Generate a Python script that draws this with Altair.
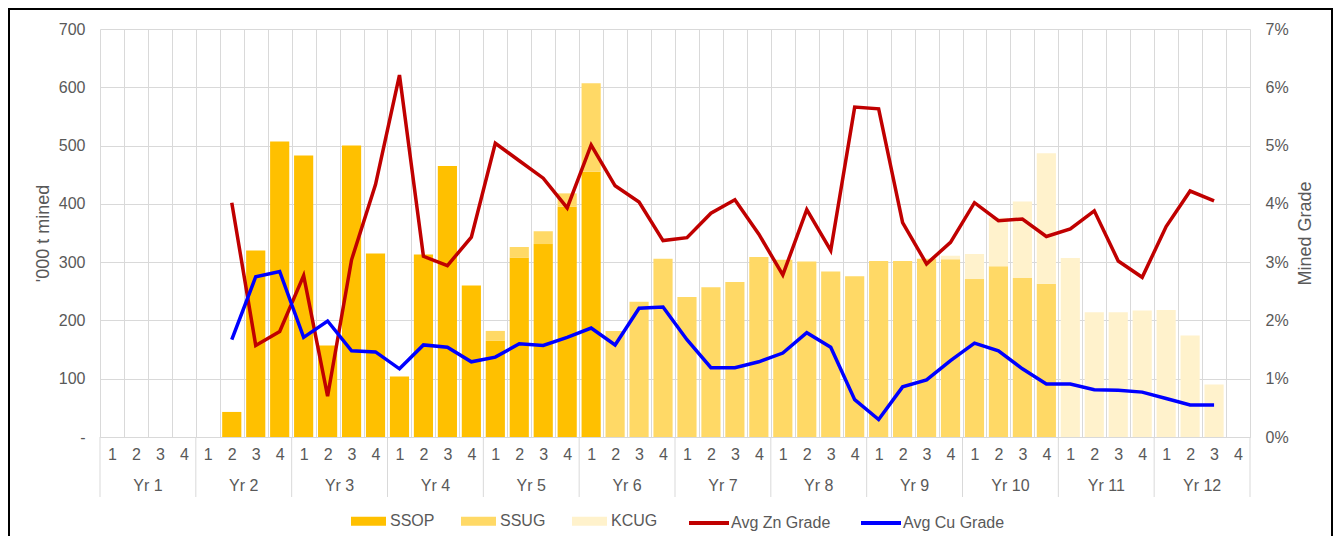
import altair as alt
import pandas as pd

# ---------------- data ----------------
YEARS = ["Yr 1", "Yr 2", "Yr 3", "Yr 4", "Yr 5", "Yr 6",
         "Yr 7", "Yr 8", "Yr 9", "Yr 10", "Yr 11", "Yr 12"]
QUARTERS = ["1", "2", "3", "4"]

SSOP = [0, 0, 0, 0,  0, 43, 320, 507,  483, 157, 500, 315,  104, 313, 465, 260,
        165, 308, 331, 395,  455, 0, 0, 0,  0, 0, 0, 0,  0, 0, 0, 0,
        0, 0, 0, 0,  0, 0, 0, 0,  0, 0, 0, 0,  0, 0, 0, 0]
SSUG = [0, 0, 0, 0,  0, 0, 0, 0,  0, 0, 0, 0,  0, 0, 0, 0,
        17, 18, 22, 23,  152, 182, 232, 306,  240, 257, 266, 309,  304, 301, 284, 276,
        302, 302, 306, 305,  271, 293, 273, 263,  0, 0, 0, 0,  0, 0, 0, 0]
KCUG = [0, 0, 0, 0,  0, 0, 0, 0,  0, 0, 0, 0,  0, 0, 0, 0,
        0, 0, 0, 0,  0, 0, 0, 0,  0, 0, 0, 0,  0, 0, 0, 0,
        0, 0, 0, 6,  43, 83, 131, 224,  307, 214, 214, 217,  218, 174, 90, 0]

ZN = [None, None, None, None,  None, 4.02, 1.57, 1.81,  2.77, 0.70, 3.04, 4.33,
      6.21, 3.10, 2.94, 3.43,  5.04, 4.74, 4.44, 3.93,  5.01, 4.31, 4.03, 3.37,
      3.42, 3.84, 4.07, 3.48,  2.78, 3.90, 3.20, 5.66,  5.63, 3.68, 2.97, 3.34,
      4.02, 3.71, 3.74, 3.44,  3.57, 3.88, 3.02, 2.74,  3.61, 4.22, 4.05, None]
CU = [None, None, None, None,  None, 1.67, 2.75, 2.84,  1.71, 1.99, 1.48, 1.46,
      1.17, 1.58, 1.54, 1.29,  1.37, 1.60, 1.57, 1.71,  1.87, 1.58, 2.21, 2.23,
      1.67, 1.19, 1.19, 1.29,  1.44, 1.79, 1.54, 0.64,  0.30, 0.86, 0.98, 1.31,
      1.61, 1.48, 1.17, 0.91,  0.91, 0.81, 0.80, 0.77,  0.66, 0.55, 0.55, None]

BAR_SERIES = ["SSOP", "SSUG", "KCUG"]
BAR_COLORS = ["#FFC000", "#FFD966", "#FFF2CC"]
LINE_SERIES = ["Avg Zn Grade", "Avg Cu Grade"]
LINE_COLORS = ["#C00000", "#0000FF"]

KEYS = [f"{y}|{q}" for y in YEARS for q in QUARTERS]

bar_rows = []
for s_i, (name, vals) in enumerate(zip(BAR_SERIES, [SSOP, SSUG, KCUG])):
    for i, v in enumerate(vals):
        if v:
            bar_rows.append({"key": KEYS[i], "series": name, "value": v, "ord": s_i})
bars_df = pd.DataFrame(bar_rows)

line_rows = []
for name, vals in zip(LINE_SERIES, [ZN, CU]):
    for i, v in enumerate(vals):
        if v is not None:
            line_rows.append({"key": KEYS[i], "series": name, "grade": v, "idx": i})
lines_df = pd.DataFrame(line_rows)

year_df = pd.DataFrame({"key": [f"{y}|2" for y in YEARS], "label": YEARS})
sep_df = pd.DataFrame({"key": [f"{y}|1" for y in YEARS]})
end_df = pd.DataFrame({"key": [KEYS[-1]]})
frame_df = pd.DataFrame({"a": [0]})

# ---------------- layout constants ----------------
W, H = 1150, 408
GRID = "#D9D9D9"
TXT = "#595959"

xscale = alt.Scale(domain=KEYS, paddingInner=0, paddingOuter=0)
xaxis = alt.Axis(title=None, labelExpr="split(datum.value, '|')[1]", labelAngle=0,
                 ticks=False, tickBand="extent", grid=True, gridColor=GRID, gridWidth=1,
                 domainColor=GRID, domainWidth=1, labelPadding=9, labelFontSize=16,
                 labelColor=TXT)


def X(**kw):
    return alt.X("key:N", scale=xscale, axis=xaxis, **kw)


bars = alt.Chart(bars_df).mark_bar(width=alt.RelativeBandSize(0.8)).encode(
    x=X(),
    y=alt.Y("value:Q", stack="zero",
            scale=alt.Scale(domain=[0, 700], nice=False),
            axis=alt.Axis(values=list(range(0, 701, 100)),
                          labelExpr="datum.value == 0 ? '-' : datum.label",
                          ticks=False, domain=False, grid=True, gridColor=GRID,
                          labelPadding=15, labelFontSize=16, labelColor=TXT,
                          title="'000 t mined", titleFontSize=18, titleFontWeight="normal",
                          titleColor=TXT, titleAngle=270, titleX=-57, titleY=H / 2,
                          titleBaseline="middle", titleAlign="center")),
    color=alt.Color("series:N", scale=alt.Scale(domain=BAR_SERIES, range=BAR_COLORS),
                    legend=alt.Legend(orient="none", legendX=251, legendY=474.5,
                                      direction="horizontal", title=None,
                                      symbolType="M-1,-0.26H1V0.26H-1Z", symbolSize=1225,
                                      symbolStrokeWidth=0, labelFontSize=16,
                                      labelColor=TXT, labelOffset=4, columnPadding=26)),
    order=alt.Order("ord:Q"),
)

lines = alt.Chart(lines_df).mark_line(strokeWidth=3.5).encode(
    x=X(),
    y=alt.Y("grade:Q", scale=alt.Scale(domain=[0, 7], nice=False),
            axis=alt.Axis(orient="right", values=list(range(0, 8)),
                          labelExpr="datum.value + '%'", ticks=False, domain=False,
                          grid=False, labelPadding=15, labelFontSize=16, labelColor=TXT,
                          title="Mined Grade", titleFontSize=18, titleFontWeight="normal",
                          titleColor=TXT, titleAngle=270, titleX=55, titleY=H / 2,
                          titleBaseline="middle", titleAlign="center")),
    color=alt.Color("series:N", scale=alt.Scale(domain=LINE_SERIES, range=LINE_COLORS),
                    legend=alt.Legend(orient="none", legendX=587, legendY=472,
                                      direction="horizontal", title=None,
                                      symbolType="stroke", symbolSize=1600,
                                      symbolStrokeWidth=4, labelFontSize=16,
                                      labelColor=TXT, labelOffset=0, columnPadding=22)),
    order=alt.Order("idx:Q"),
)

seps = alt.Chart(sep_df).mark_rule(color=GRID, strokeWidth=1).encode(
    x=X(bandPosition=0), y=alt.value(H), y2=alt.value(H + 60))
end_sep = alt.Chart(end_df).mark_rule(color=GRID, strokeWidth=1).encode(
    x=X(bandPosition=1), y=alt.value(H), y2=alt.value(H + 60))

year_text = alt.Chart(year_df).mark_text(fontSize=16, color=TXT, baseline="middle").encode(
    x=X(bandPosition=1), y=alt.value(H + 49), text="label:N")

frame_left = alt.Chart(frame_df).mark_rule(color="black", strokeWidth=2).encode(
    x=alt.value(-91), y=alt.value(-20), y2=alt.value(H + 99))
frame_top = alt.Chart(frame_df).mark_rule(color="black", strokeWidth=2).encode(
    x=alt.value(-92), x2=alt.value(W + 83), y=alt.value(-20))
frame_right = alt.Chart(frame_df).mark_rule(color="black", strokeWidth=2).encode(
    x=alt.value(W + 82), y=alt.value(-20), y2=alt.value(H + 99))

chart = alt.layer(
    bars, seps, end_sep, year_text, lines, frame_left, frame_top, frame_right
).resolve_scale(
    y="independent", color="independent"
).properties(
    width=W, height=H,
    autosize=alt.AutoSizeParams(type="none"),
    padding={"left": 92, "top": 21, "right": 83, "bottom": 99},
).configure(
    font="Liberation Sans", background="white"
).configure_view(stroke=None)

chart.save("out.html", embed_options={"renderer": "svg", "actions": False})
